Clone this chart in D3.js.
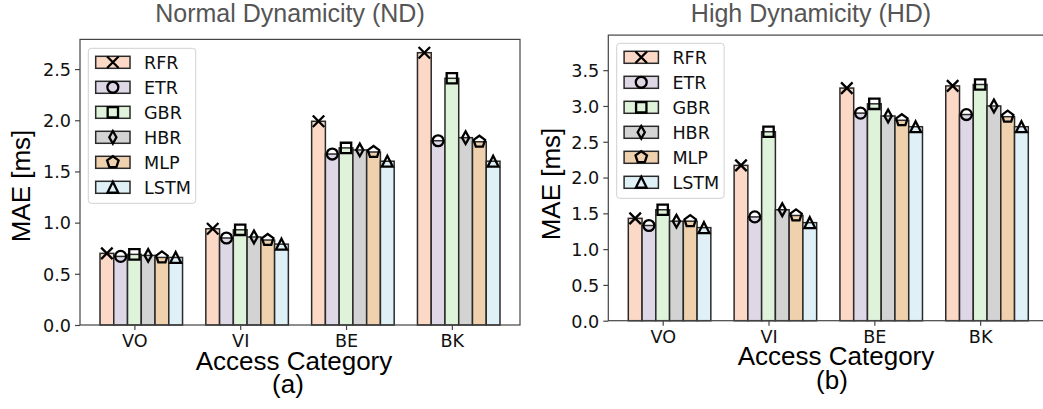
<!DOCTYPE html>
<html>
<head>
<meta charset="utf-8">
<script src="https://cdn.jsdelivr.net/npm/d3@7"></script>
<style>
  html, body { margin: 0; padding: 0; background: #fff; }
  svg { display: block; }
  .tick text { font-family: "DejaVu Sans", sans-serif; font-size: 17.6px; fill: #111; }
</style>
</head>
<body>
<svg id="chart" width="1043" height="409"></svg>
<script>
// Access categories and model series
const categories = ["VO", "VI", "BE", "BK"];
const models = ["RFR", "ETR", "GBR", "HBR", "MLP", "LSTM"];
const fills = ["#fcd9c6", "#ddd7e6", "#dff2da", "#d3d3d3", "#f0d1ae", "#dff1f7"];
const markers = ["x", "o", "s", "d", "p", "^"];

// MAE [ms] per model, one value per access category (VO, VI, BE, BK)
const ndRFR  = [0.70, 0.94, 1.99, 2.66];
const ndETR  = [0.67, 0.85, 1.67, 1.80];
const ndGBR  = [0.69, 0.93, 1.73, 2.41];
const ndHBR  = [0.68, 0.86, 1.71, 1.83];
const ndMLP  = [0.66, 0.83, 1.69, 1.79];
const ndLSTM = [0.66, 0.79, 1.60, 1.60];

const hdRFR  = [1.43, 2.17, 3.25, 3.28];
const hdETR  = [1.33, 1.45, 2.90, 2.88];
const hdGBR  = [1.55, 2.64, 3.03, 3.30];
const hdHBR  = [1.39, 1.55, 2.86, 3.00];
const hdMLP  = [1.39, 1.47, 2.80, 2.85];
const hdLSTM = [1.30, 1.37, 2.71, 2.71];

const ndTicks = [0, 0.5, 1.0, 1.5, 2.0, 2.5];
const hdTicks = [0, 0.5, 1.0, 1.5, 2.0, 2.5, 3.0, 3.5];

const barW = 0.13;
const markerSize = 11.5;

// Open marker outlines (black stroke, no fill)
function markerPath(kind, s) {
  const r = s / 2;
  const p = d3.path();
  if (kind === "x") {
    p.moveTo(-r, -r); p.lineTo(r, r);
    p.moveTo(-r, r); p.lineTo(r, -r);
  } else if (kind === "o") {
    p.arc(0, 0, r * 0.95, 0, 2 * Math.PI); p.closePath();
  } else if (kind === "s") {
    const h = r * 0.9;
    p.rect(-h, -h, 2 * h, 2 * h);
  } else if (kind === "d") {
    const hh = r * 1.1, hw = r * 0.62;
    p.moveTo(0, -hh); p.lineTo(hw, 0); p.lineTo(0, hh); p.lineTo(-hw, 0); p.closePath();
  } else if (kind === "p") {
    const R = r * 1.05;
    for (let i = 0; i < 5; i++) {
      const a = -Math.PI / 2 + i * 2 * Math.PI / 5;
      const x = R * Math.cos(a), y = R * Math.sin(a);
      if (i === 0) p.moveTo(x, y); else p.lineTo(x, y);
    }
    p.closePath();
  } else if (kind === "^") {
    const h = r * 0.95;
    p.moveTo(0, -h); p.lineTo(h, h); p.lineTo(-h, h); p.closePath();
  }
  return p.toString();
}

const svg = d3.select("#chart");

function panel(cfg) {
  const x = d3.scaleLinear().domain([-0.514, 3.644]).range([cfg.left, cfg.left + 440]);
  const y = d3.scaleLinear().domain([0, cfg.ymax]).range([cfg.bottom, cfg.bottom - 285.6]);
  const g = svg.append("g");

  // bars
  cfg.series.forEach((vals, j) => {
    g.append("g").selectAll("rect").data(vals).join("rect")
      .attr("x", (v, i) => x(i + (j - 2) * barW - barW / 2))
      .attr("width", x(barW) - x(0))
      .attr("y", v => y(v))
      .attr("height", v => y(0) - y(v))
      .attr("fill", fills[j])
      .attr("stroke", "#2a2a2a")
      .attr("stroke-width", 1.5);
  });
  // markers at bar tops
  cfg.series.forEach((vals, j) => {
    g.append("g").selectAll("path").data(vals).join("path")
      .attr("transform", (v, i) => `translate(${x(i + (j - 2) * barW)},${y(v)})`)
      .attr("d", markerPath(markers[j], markerSize))
      .attr("fill", "none")
      .attr("stroke", "#000")
      .attr("stroke-width", 2.3);
  });

  // frame
  g.append("rect")
    .attr("x", cfg.left).attr("y", cfg.bottom - 285.6)
    .attr("width", 440).attr("height", 285.6)
    .attr("fill", "none").attr("stroke", "#444").attr("stroke-width", 1.2);

  // axes
  const ya = g.append("g").attr("transform", `translate(${cfg.left},0)`)
    .call(d3.axisLeft(y).tickValues(cfg.ticks).tickFormat(d3.format(".1f")).tickSize(5).tickPadding(4));
  ya.select(".domain").remove();
  ya.selectAll(".tick line").attr("stroke", "#444").attr("stroke-width", 1.2);
  ya.selectAll(".tick text").attr("dy", "0.36em");

  const xa = g.append("g").attr("transform", `translate(0,${cfg.bottom})`)
    .call(d3.axisBottom(x).tickValues([0, 1, 2, 3]).tickFormat(i => categories[i]).tickSize(5).tickPadding(5));
  xa.select(".domain").remove();
  xa.selectAll(".tick line").attr("stroke", "#444").attr("stroke-width", 1.2);

  // titles and labels
  g.append("text").attr("x", cfg.titleX).attr("y", cfg.titleY)
    .attr("text-anchor", "middle").attr("font-family", "Liberation Sans, Arial, sans-serif")
    .attr("font-size", 25).attr("fill", "#555").text(cfg.title);
  g.append("text").attr("x", cfg.xlabX).attr("y", cfg.xlabY)
    .attr("text-anchor", "middle").attr("font-family", "Liberation Sans, Arial, sans-serif")
    .attr("font-size", 26).attr("fill", "#000").text("Access Category");
  g.append("text").attr("x", cfg.subX).attr("y", cfg.subY)
    .attr("text-anchor", "middle").attr("font-family", "Liberation Sans, Arial, sans-serif")
    .attr("font-size", 26).attr("fill", "#000").text(cfg.sub);
  g.append("text")
    .attr("transform", `translate(${cfg.ylabX},${cfg.ylabY}) rotate(-90)`)
    .attr("text-anchor", "middle").attr("font-family", "Liberation Sans, Arial, sans-serif")
    .attr("font-size", 26).attr("fill", "#000").text("MAE [ms]");

  // legend
  const lg = g.append("g").attr("transform", `translate(${cfg.legX},${cfg.legY})`);
  lg.append("rect").attr("x", 0).attr("y", 0).attr("width", 107.4).attr("height", 155)
    .attr("rx", 3).attr("fill", "#fff").attr("fill-opacity", 0.85)
    .attr("stroke", "#d0d0d0").attr("stroke-width", 1);
  models.forEach((m, j) => {
    const cy = 14 + j * 25;
    lg.append("rect").attr("x", 7.4).attr("y", cy - 6).attr("width", 34.3).attr("height", 12)
      .attr("fill", fills[j]).attr("stroke", "#2a2a2a").attr("stroke-width", 1.5);
    lg.append("path").attr("transform", `translate(${7.4 + 17.15},${cy})`)
      .attr("d", markerPath(markers[j], markerSize))
      .attr("fill", "none").attr("stroke", "#000").attr("stroke-width", 2.3);
    lg.append("text").attr("x", 55.7).attr("y", cy + 6.3)
      .attr("font-family", "DejaVu Sans, sans-serif").attr("font-size", 17.6)
      .attr("fill", "#111").text(m);
  });
}

panel({
  left: 80, bottom: 325, ymax: 2.79, ticks: ndTicks,
  series: [ndRFR, ndETR, ndGBR, ndHBR, ndMLP, ndLSTM],
  title: "Normal Dynamicity (ND)", titleX: 290, titleY: 22,
  xlabX: 294, xlabY: 369.5, sub: "(a)", subX: 288, subY: 393,
  ylabX: 30, ylabY: 186, legX: 88.3, legY: 48.3
});

panel({
  left: 608.3, bottom: 320.7, ymax: 3.99, ticks: hdTicks,
  series: [hdRFR, hdETR, hdGBR, hdHBR, hdMLP, hdLSTM],
  title: "High Dynamicity (HD)", titleX: 811, titleY: 21.5,
  xlabX: 836, xlabY: 364.5, sub: "(b)", subX: 832, subY: 389,
  ylabX: 560, ylabY: 184, legX: 616.7, legY: 43.3
});
</script>
</body>
</html>
